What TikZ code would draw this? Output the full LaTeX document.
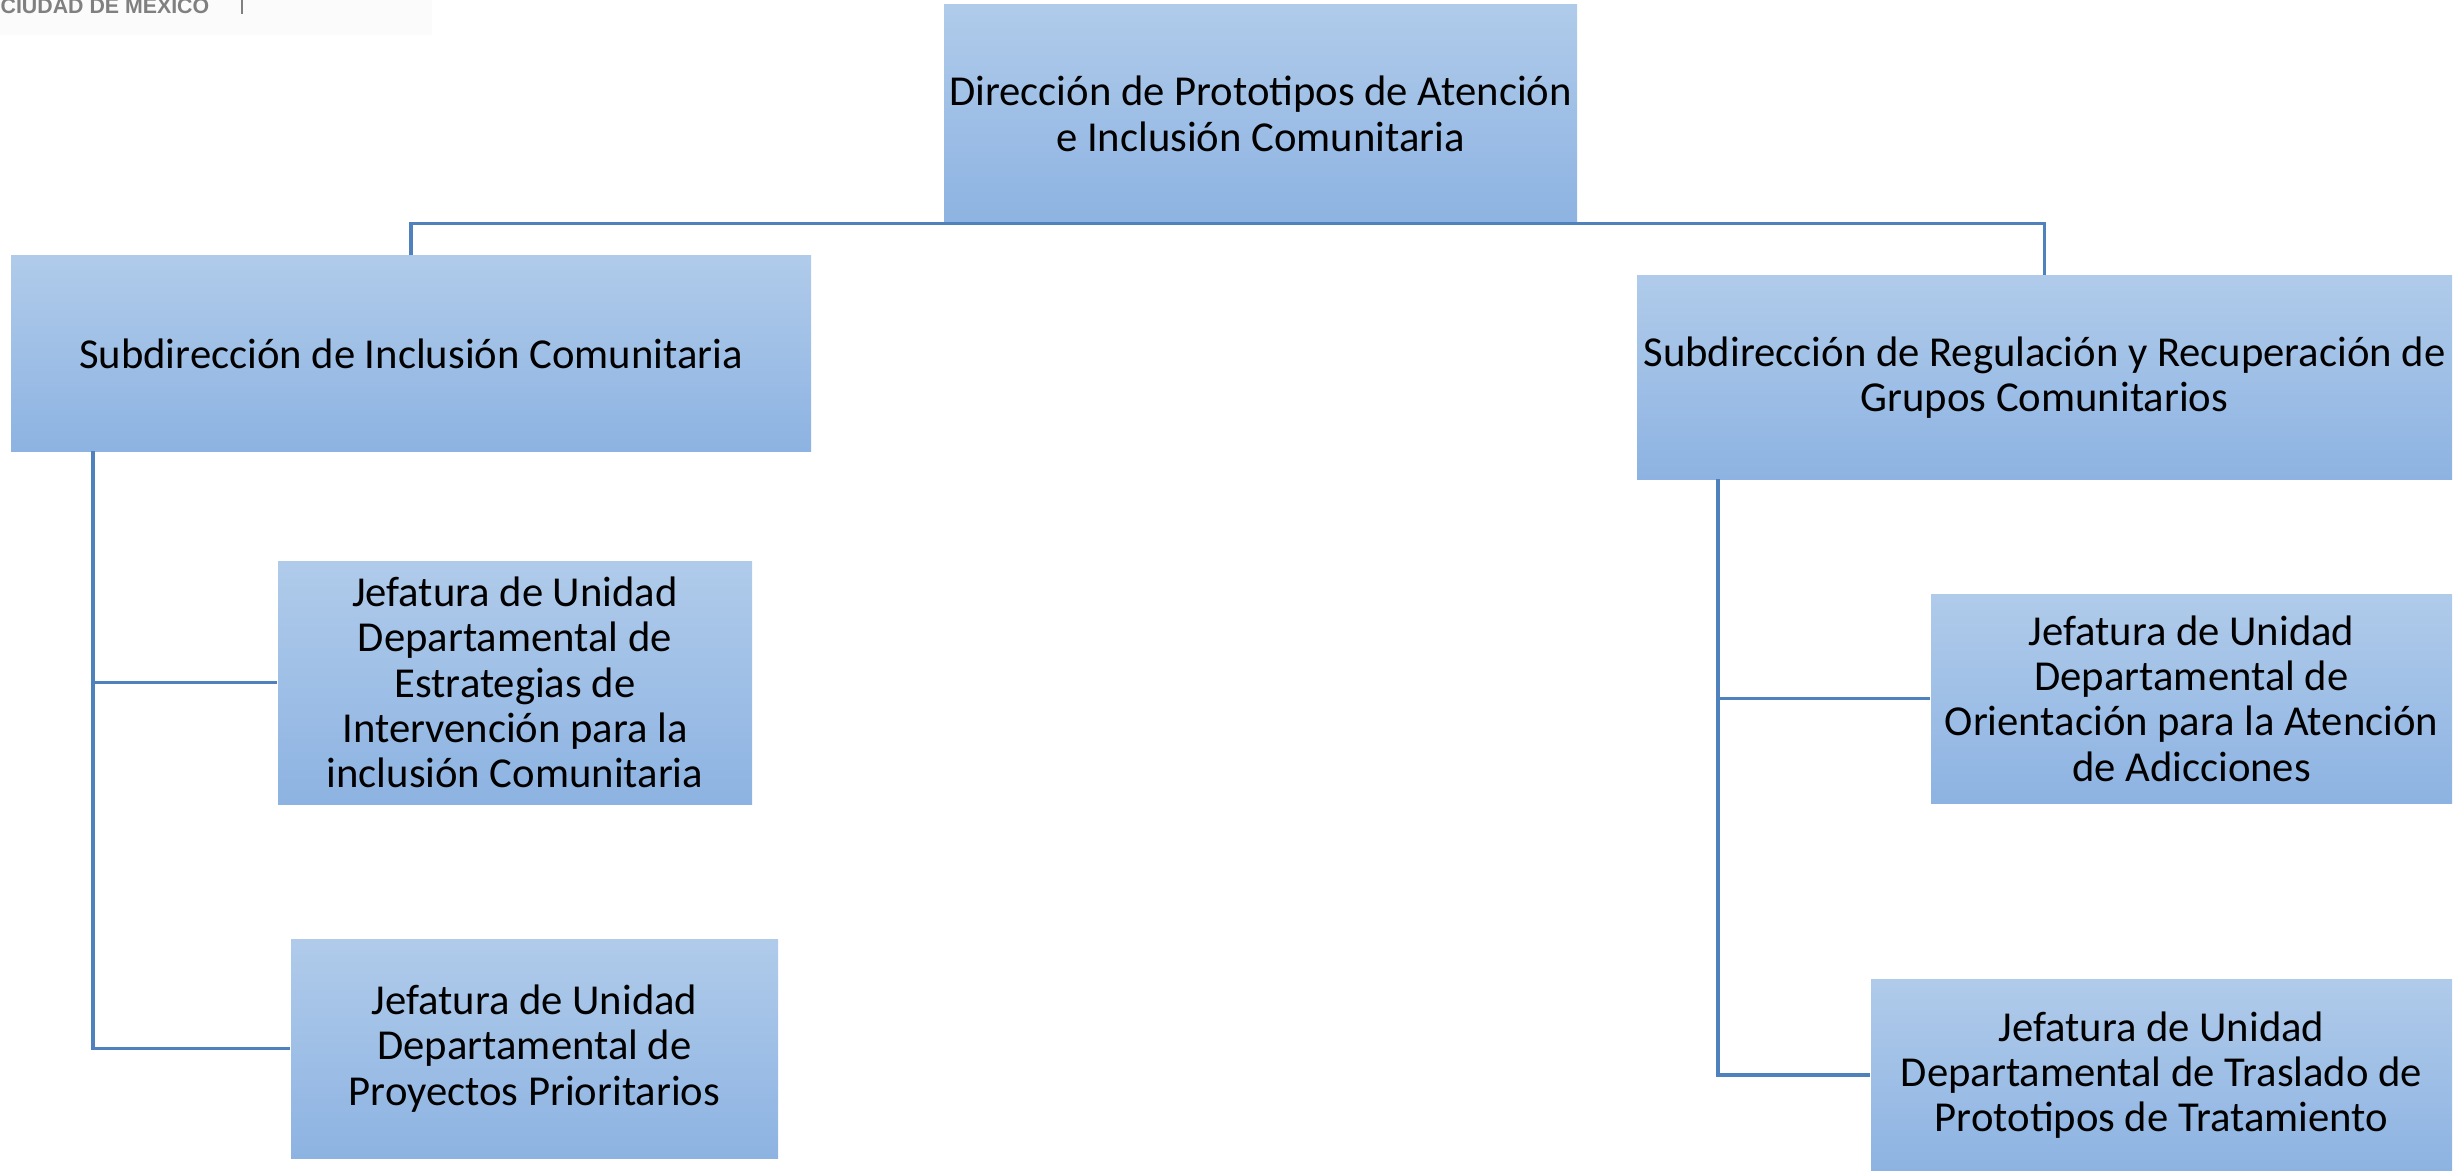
\documentclass[tikz,border=0pt]{standalone}
\usepackage{fontspec}
\setmainfont{Carlito}
\newfontfamily\headerfont{Liberation Sans}
\usepackage{tikz}
\definecolor{org_top}{HTML}{B0CBEA}
\definecolor{org_bottom}{HTML}{8DB3E2}
\definecolor{org_line}{HTML}{4F81BD}
\definecolor{cdmx_gray}{HTML}{808080}

\tikzset{
  unit/.style={rectangle, inner sep=0pt, align=center,
    top color=org_top, bottom color=org_bottom,
    font=\fontsize{12.8}{13.6}\selectfont},
  link/.style={draw=org_line, line width=1pt},
}

\begin{document}
\begin{tikzpicture}[x=0.3pt, y=-0.3pt]
    \useasboundingbox (0, 0) rectangle (2463, 1171);

    % header left over from the page
    \fill [black!1.5] (0, 0) rectangle (432, 35);
    \node [anchor=base west, inner sep=0pt, text=cdmx_gray,
           font=\headerfont\bfseries\fontsize{6.4}{7}\selectfont] (cdmx) at (0, 14) {CIUDAD DE MEXICO};
    \draw [cdmx_gray, line width=0.4pt] (242, 0) -- (242, 14);

    \node [unit, minimum width=633*0.3pt, minimum height=218*0.3pt] (dir) at (1260.5, 114)
        {Dirección de Prototipos de Atención\\e Inclusión Comunitaria};

    \node [unit, minimum width=800*0.3pt, minimum height=195*0.3pt] (sub_inc) at (411, 353.5)
        {Subdirección de Inclusión Comunitaria};
    \node [unit, minimum width=815*0.3pt, minimum height=203*0.3pt] (sub_reg) at (2044.5, 377.5)
        {Subdirección de Regulación y Recuperación de\\Grupos Comunitarios};

    \node [unit, minimum width=474*0.3pt, minimum height=243*0.3pt] (jud_est) at (515, 682.5)
        {Jefatura de Unidad\\Departamental de\\Estrategias de\\Intervención para la\\inclusión Comunitaria};
    \node [unit, minimum width=487*0.3pt, minimum height=219*0.3pt] (jud_pro) at (534.5, 1048.5)
        {Jefatura de Unidad\\Departamental de\\Proyectos Prioritarios};

    \node [unit, minimum width=521*0.3pt, minimum height=209*0.3pt] (jud_ori) at (2191.5, 698.5)
        {Jefatura de Unidad\\Departamental de\\Orientación para la Atención\\de Adicciones};
    \node [unit, minimum width=581*0.3pt, minimum height=192*0.3pt] (jud_tra) at (2161.5, 1075)
        {Jefatura de Unidad\\Departamental de Traslado de\\Prototipos de Tratamiento};

    \coordinate (trunk_l) at (93, 451);
    \coordinate (trunk_r) at (1718, 479);

    \draw [link] (sub_inc.north) |- (dir.south) -| (sub_reg.north);
    \draw [link] (trunk_l) |- (jud_est.west);
    \draw [link] (trunk_l) |- (jud_pro.west);
    \draw [link] (trunk_r) |- (jud_ori.west);
    \draw [link] (trunk_r) |- (jud_tra.west);

\end{tikzpicture}
\end{document}
